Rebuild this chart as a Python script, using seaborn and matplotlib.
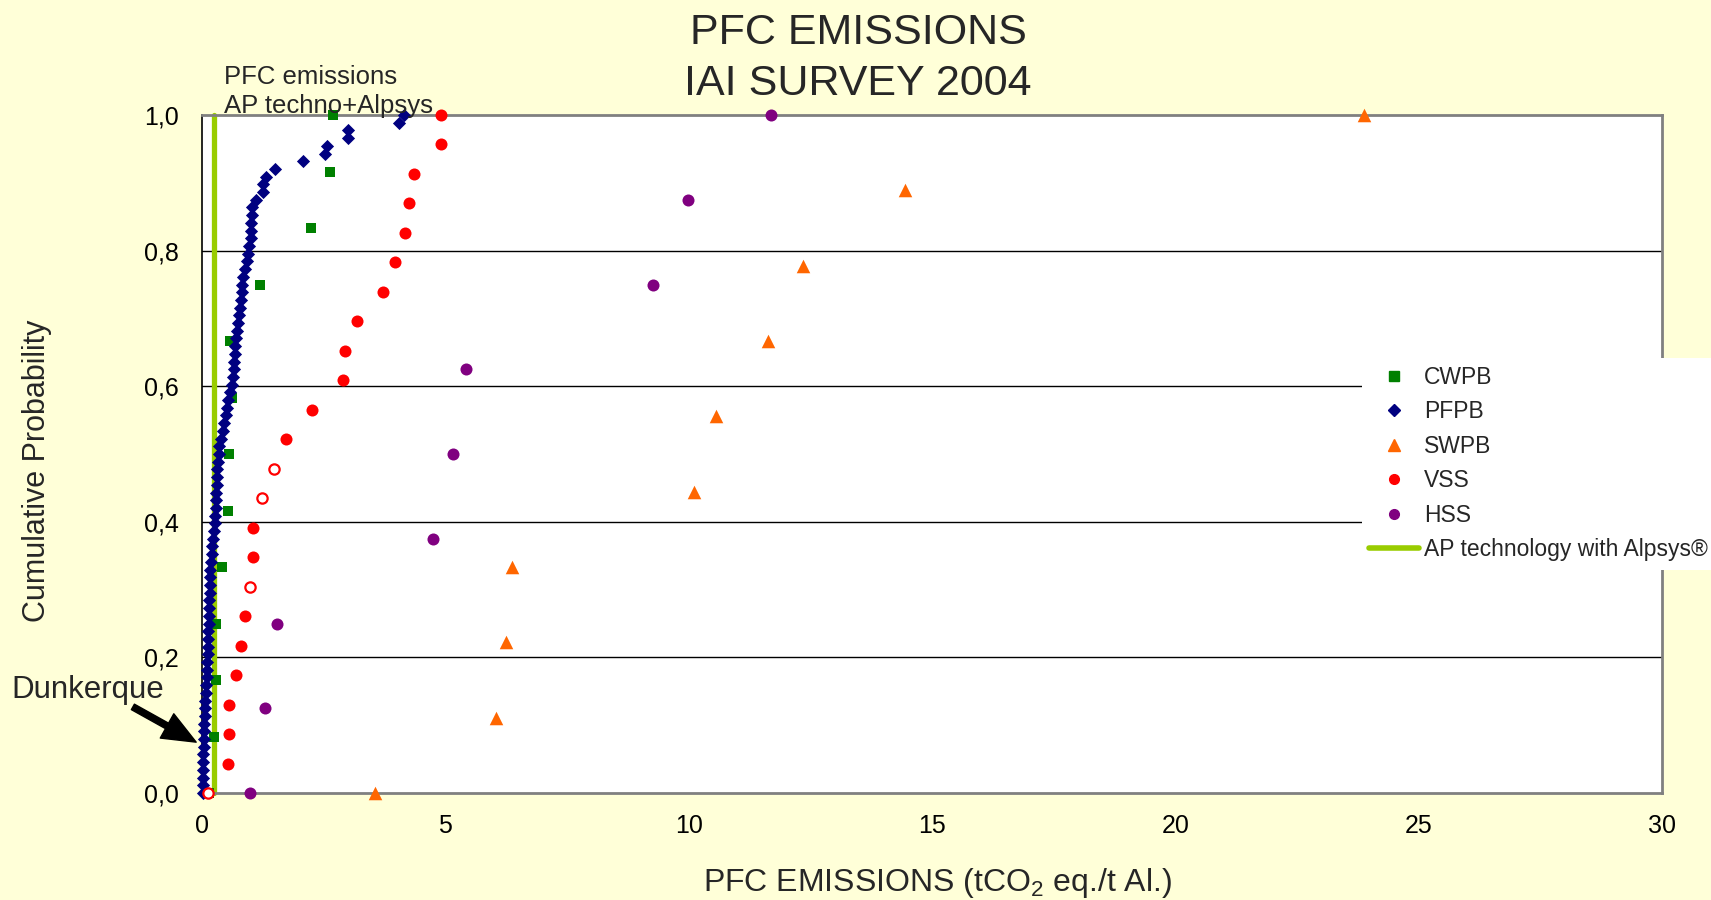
import matplotlib
matplotlib.use("Agg")
import matplotlib.pyplot as plt
import matplotlib.ticker as mticker
from matplotlib.lines import Line2D
from matplotlib.patches import Rectangle
import numpy as np
import seaborn as sns

# emissions (tCO2 eq./t Al.) per smelter, sorted, one list per technology
cwpb = [0.15, 0.25, 0.28, 0.29, 0.41, 0.53, 0.56, 0.61, 0.58, 1.20, 2.23, 2.62, 2.69]
pfpb = [0.02, 0.03, 0.02, 0.03, 0.02, 0.03, 0.04, 0.04, 0.05, 0.05,
        0.06, 0.06, 0.07, 0.08, 0.09, 0.10, 0.10, 0.11, 0.12, 0.12,
        0.13, 0.13, 0.14, 0.14, 0.15, 0.15, 0.16, 0.16, 0.17, 0.17,
        0.18, 0.20, 0.21, 0.23, 0.25, 0.26, 0.27, 0.28, 0.29, 0.29,
        0.30, 0.30, 0.31, 0.32, 0.34, 0.35, 0.39, 0.43, 0.46, 0.50,
        0.52, 0.54, 0.58, 0.61, 0.63, 0.65, 0.66, 0.68, 0.68, 0.69,
        0.71, 0.73, 0.75, 0.78, 0.81, 0.82, 0.83, 0.85, 0.89, 0.92,
        0.94, 0.97, 1.00, 1.00, 1.01, 1.03, 1.03, 1.10, 1.25, 1.25,
        1.32, 1.51, 2.07, 2.53, 2.56, 2.99, 2.99, 4.05, 4.15]
swpb = [3.55, 6.04, 6.25, 6.36, 10.11, 10.57, 11.64, 12.35, 14.44, 23.88]
vss = [0.13, 0.53, 0.56, 0.56, 0.70, 0.80, 0.88, 0.98, 1.05, 1.05, 1.23, 1.48,
       1.73, 2.26, 2.90, 2.93, 3.18, 3.71, 3.97, 4.18, 4.25, 4.36, 4.92, 4.92]
vss_open = [0, 7, 10, 11]   # points drawn as hollow circles
hss = [0.98, 1.30, 1.55, 4.74, 5.16, 5.42, 9.27, 9.99, 11.69]
ap_alpsys = [0.25, 0.25]
ap_prob = [0.0, 1.0]


def cum_prob(vals):
    return np.arange(len(vals)) / (len(vals) - 1)


sns.set_style("white")
plt.rcParams["font.family"] = ["Liberation Sans", "DejaVu Sans"]
plt.rcParams["mathtext.default"] = "regular"

W, H = 1711, 900
fig = plt.figure(figsize=(W / 100, H / 100), dpi=100, facecolor="#FFFFD8")
ax = fig.add_axes([202 / W, 1 - 793 / H, 1460 / W, 678 / H])
ax.set_facecolor("white")

sns.lineplot(x=ap_alpsys, y=ap_prob, orient="y", color="#99CC00", lw=3.8, ax=ax,
             zorder=1, clip_on=False)
sns.scatterplot(x=cwpb, y=cum_prob(cwpb), marker="s", color="#008000", s=55,
                linewidth=0, ax=ax, zorder=3, clip_on=False)
sns.scatterplot(x=pfpb, y=cum_prob(pfpb), marker="D", color="#000080", s=45,
                linewidth=0, ax=ax, zorder=4, clip_on=False)
sns.scatterplot(x=swpb, y=cum_prob(swpb), marker="^", color="#FF6600", s=95,
                linewidth=0, ax=ax, zorder=5, clip_on=False)

p = cum_prob(vss)
solid = [i for i in range(len(vss)) if i not in vss_open]
sns.scatterplot(x=[vss[i] for i in solid], y=p[solid], marker="o", color="#FF0000",
                s=75, linewidth=0, ax=ax, zorder=6, clip_on=False)
sns.scatterplot(x=[vss[i] for i in vss_open], y=p[vss_open], marker="o",
                facecolor="white", edgecolor="#FF0000", s=55, linewidth=1.6,
                ax=ax, zorder=6, clip_on=False)
sns.scatterplot(x=hss, y=cum_prob(hss), marker="o", color="#800080", s=75,
                linewidth=0, ax=ax, zorder=7, clip_on=False)

ax.set_xlim(0, 30)
ax.set_ylim(0, 1)
ax.set_xticks(range(0, 31, 5))
ax.set_yticks([0, 0.2, 0.4, 0.6, 0.8, 1.0])
ax.yaxis.set_major_formatter(mticker.FuncFormatter(lambda v, _: f"{v:.1f}".replace(".", ",")))
ax.tick_params(axis="both", direction="out", labelsize=18, colors="black")
ax.tick_params(axis="y", length=8, width=1, pad=9)
ax.tick_params(axis="x", length=6, width=1, pad=9, color="#606060")
for y in [0.2, 0.4, 0.6, 0.8]:
    ax.axhline(y, color="black", lw=1, zorder=0.5)
for side in ["top", "right", "bottom"]:
    ax.spines[side].set_color("#808080")
    ax.spines[side].set_linewidth(2)
ax.spines["left"].set_color("black")
ax.spines["left"].set_linewidth(1.2)

ax.set_xlabel("PFC EMISSIONS (tCO$_2$ eq./t Al.)", fontsize=23)
ax.set_ylabel("Cumulative Probability", fontsize=22)
ax.xaxis.set_label_coords(0.504, -0.108)
ax.yaxis.set_label_coords(-0.103, 0.475)
if ax.get_legend():
    ax.get_legend().remove()

fig.text(858 / W, 1 - 44 / H, "PFC EMISSIONS", ha="center", va="baseline", fontsize=31)
fig.text(858 / W, 1 - 95 / H, "IAI SURVEY 2004", ha="center", va="baseline", fontsize=31)
fig.text(224 / W, 1 - 84 / H, "PFC emissions", va="baseline", fontsize=18.5)
fig.text(224 / W, 1 - 113 / H, "AP techno+Alpsys", va="baseline", fontsize=18.5)
fig.text(11 / W, 1 - 698 / H, "Dunkerque", va="baseline", fontsize=22.5)
ax.annotate("", xy=(-0.12, 0.075), xytext=(-1.42, 0.127),
            arrowprops=dict(facecolor="black", edgecolor="black", width=4.5,
                            headwidth=20, headlength=24, shrink=0),
            annotation_clip=False)

# white legend box over the right edge of the plot area
fig.patches.append(Rectangle((1362 / W, 1 - 570 / H), (W - 1362) / W, 212 / H,
                             transform=fig.transFigure, facecolor="white",
                             edgecolor="none", zorder=2))
handles = [
    Line2D([], [], marker="s", color="#008000", ls="none", markersize=7),
    Line2D([], [], marker="D", color="#000080", ls="none", markersize=6),
    Line2D([], [], marker="^", color="#FF6600", ls="none", markersize=8),
    Line2D([], [], marker="o", color="#FF0000", ls="none", markersize=7),
    Line2D([], [], marker="o", color="#800080", ls="none", markersize=7),
    Line2D([], [], color="#99CC00", lw=4),
]
labels = ["CWPB", "PFPB", "SWPB", "VSS", "HSS", "AP technology with Alpsys®"]
leg = fig.legend(handles, labels, loc="upper left", bbox_to_anchor=(1369 / W, 1 - 366 / H),
                 frameon=False, fontsize=16.5, borderpad=0, borderaxespad=0,
                 handlelength=2.2, handletextpad=0.2, labelspacing=0.5)
leg.set_zorder(3)

fig.savefig("out.png", dpi=100, facecolor=fig.get_facecolor())
